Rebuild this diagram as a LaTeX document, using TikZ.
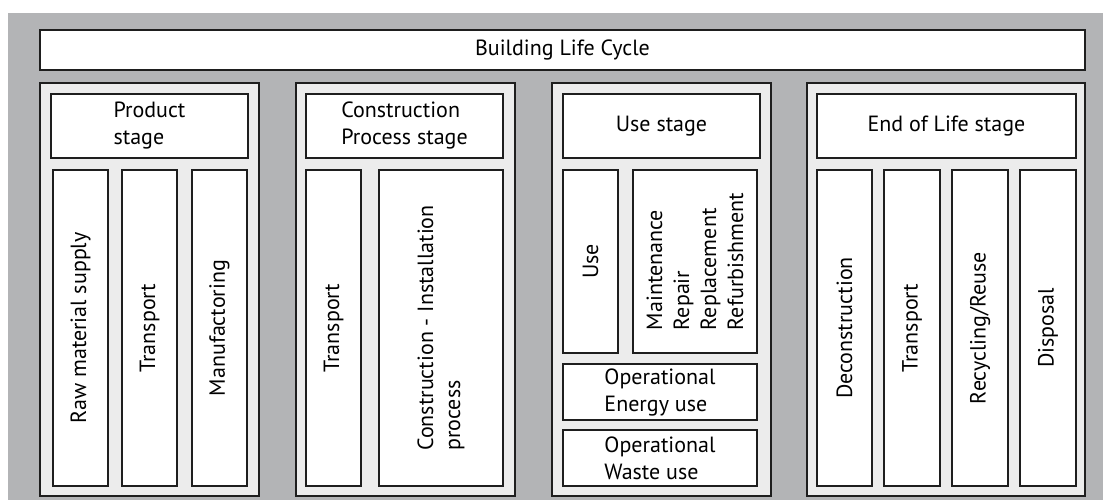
\documentclass[tikz,border=0pt]{standalone}
\usepackage{fontspec}
\setmainfont{PT Sans}
\definecolor{bggray}{HTML}{B3B4B6}
\definecolor{stagefill}{HTML}{ECECEC}
\definecolor{edge}{HTML}{1E1E1E}
\tikzset{
  boxstyle/.style={draw=edge, line width=1.6pt, fill=white, inner sep=0pt, outer sep=0pt,
    font=\fontsize{22}{27}\selectfont, align=left},
  stagebox/.style={boxstyle, fill=stagefill},
}
% horizontal box: name, x1, y1, x2, y2, options, text
\newcommand\HBox[7]{%
  \pgfmathsetmacro\bcx{(#2+#4)/2}\pgfmathsetmacro\bcy{(#3+#5)/2}%
  \pgfmathsetmacro\bw{#4-#2}\pgfmathsetmacro\bh{#5-#3}%
  \node[boxstyle,#6,minimum width=\bw pt,minimum height=\bh pt] (#1) at (\bcx pt,-\bcy pt) {#7};}
% vertical box with rotated text
\newcommand\VBox[7]{%
  \pgfmathsetmacro\bcx{(#2+#4)/2}\pgfmathsetmacro\bcy{(#3+#5)/2}%
  \pgfmathsetmacro\bw{#4-#2}\pgfmathsetmacro\bh{#5-#3}%
  \node[boxstyle,#6,rotate=90,minimum width=\bh pt,minimum height=\bw pt] (#1) at (\bcx pt,-\bcy pt) {#7};}
\begin{document}
\begin{tikzpicture}
\useasboundingbox (0,0) rectangle (1103pt,-500pt);
\fill[bggray] (8pt,-13pt) rectangle (1103pt,-500pt);
% title
\HBox{title}{40}{30}{1085}{70}{}{Building Life Cycle}
% stage frames
\HBox{prod}{40}{83}{259}{496}{stagebox}{}
\HBox{cons}{296}{83}{515}{496}{stagebox}{}
\HBox{use}{552}{83}{771}{496}{stagebox}{}
\HBox{eol}{807}{83}{1085}{496}{stagebox}{}
% headers
\HBox{prodh}{51}{94}{248}{158}{}{Product\\stage}
\HBox{consh}{306}{94}{503}{158}{}{Construction\\Process stage}
\HBox{useh}{563}{94}{760}{158}{}{Use stage}
\HBox{eolh}{817}{94}{1076}{158}{}{End of Life stage}
% product stage
\VBox{p1}{53}{170}{108}{486}{}{Raw material supply}
\VBox{p2}{122}{170}{177}{486}{}{Transport}
\VBox{p3}{192}{170}{247}{486}{}{Manufactoring}
% construction stage
\VBox{c1}{306}{170}{361}{486}{}{Transport}
\VBox{c2}{379}{170}{503}{486}{}{Construction - Installation\\process}
% use stage
\VBox{u1}{563}{170}{618}{353}{}{Use}
\VBox{u2}{633}{170}{757}{353}{}{Maintenance\\Repair\\Replacement\\Refurbishment}
\HBox{u3}{563}{364}{757}{420}{}{Operational\\Energy use}
\HBox{u4}{563}{430}{757}{486}{}{Operational\\Waste use}
% end of life stage
\VBox{e1}{817}{170}{872}{486}{}{Deconstruction}
\VBox{e2}{884}{170}{940}{486}{}{Transport}
\VBox{e3}{952}{170}{1008}{486}{}{Recycling/Reuse}
\VBox{e4}{1020}{170}{1076}{486}{}{Disposal}
\end{tikzpicture}
\end{document}
